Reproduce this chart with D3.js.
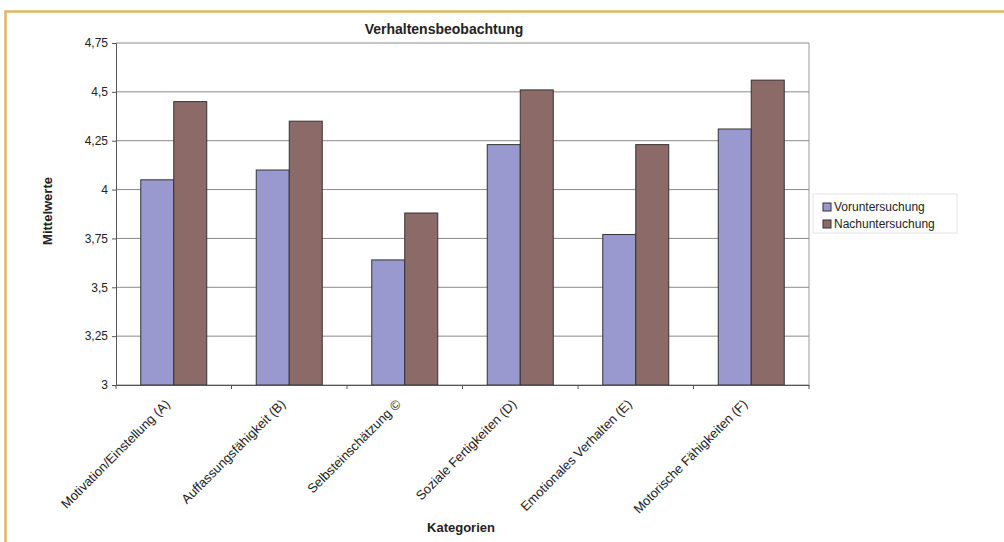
<!DOCTYPE html>
<html>
<head>
<meta charset="utf-8">
<script src="https://cdn.jsdelivr.net/npm/d3@7"></script>
<style>
    body { margin: 0; background: #fff; }
    text { font-family: "Liberation Sans", Arial, sans-serif; fill: #222; }
</style>
</head>
<body>
<div id="chart"></div>
<script>

// chart data
var categories = ["Motivation/Einstellung (A)", "Auffassungsfähigkeit (B)", "Selbsteinschätzung ©",
    "Soziale Fertigkeiten (D)", "Emotionales Verhalten (E)", "Motorische Fähigkeiten (F)"];
var seriesNames = ["Voruntersuchung", "Nachuntersuchung"];
var vorValues = [4.05, 4.10, 3.64, 4.23, 3.77, 4.31];
var nachValues = [4.45, 4.35, 3.88, 4.51, 4.23, 4.56];
var yTicks = [3, 3.25, 3.5, 3.75, 4, 4.25, 4.5, 4.75];

var colors = ["#9999cf", "#8c6a68"];

var W = 1004, H = 542;
var margin = { top: 43, right: 195, bottom: 157, left: 116 },
    width = W - margin.left - margin.right,
    height = H - margin.top - margin.bottom;

var svg = d3.select("#chart")
    .append("svg")
    .attr("width", W)
    .attr("height", H);

// orange frame of the scanned page
svg.append("path")
    .attr("d", "M5.5," + H + "V11.5H" + W)
    .attr("fill", "none")
    .attr("stroke", "#e2b566")
    .attr("stroke-width", 2.5);

var g = svg.append("g")
    .attr("transform", "translate(" + margin.left + "," + margin.top + ")");

var x0 = d3.scaleBand()
    .domain(categories)
    .range([0, width])
    .paddingInner(0)
    .paddingOuter(0);

// excel gap width ~150%
var barW = x0.bandwidth() / 3.5;
var x1 = d3.scaleBand()
    .domain(seriesNames)
    .range([0.75 * barW, 2.75 * barW]);

var y = d3.scaleLinear()
    .domain([3, 4.75])
    .range([height, 0]);

// gridlines
g.selectAll(".grid")
    .data(yTicks)
    .enter()
    .append("line")
    .attr("x1", 0)
    .attr("x2", width)
    .attr("y1", function (d) { return y(d); })
    .attr("y2", function (d) { return y(d); })
    .attr("stroke", "#8a8a8a")
    .attr("stroke-width", 1);

// right border of plot area
g.append("line")
    .attr("x1", width).attr("x2", width)
    .attr("y1", 0).attr("y2", height)
    .attr("stroke", "#9a9a9a");

// bars
var rows = categories.map(function (c, i) {
    return { cat: c, values: [vorValues[i], nachValues[i]] };
});

var groups = g.selectAll(".grp")
    .data(rows)
    .enter()
    .append("g")
    .attr("transform", function (d) { return "translate(" + x0(d.cat) + ",0)"; });

groups.selectAll("rect")
    .data(function (d) { return d.values.map(function (v, j) { return { key: seriesNames[j], v: v, j: j }; }); })
    .enter()
    .append("rect")
    .attr("x", function (d) { return x1(d.key); })
    .attr("y", function (d) { return y(d.v); })
    .attr("width", x1.bandwidth())
    .attr("height", function (d) { return height - y(d.v); })
    .attr("fill", function (d) { return colors[d.j]; })
    .attr("stroke", "#333")
    .attr("stroke-width", 1);

// y axis
var yAxis = g.append("g")
    .call(d3.axisLeft(y).tickValues(yTicks).tickSize(4)
        .tickFormat(function (d) { return String(d).replace(".", ","); }));
yAxis.select(".domain").attr("stroke", "#555");
yAxis.selectAll(".tick line").attr("stroke", "#555");
yAxis.selectAll("text")
    .style("font-family", "'Liberation Sans', Arial, sans-serif")
    .style("font-size", "12px")
    .attr("fill", "#333")
    .attr("x", -8);

// x axis
var xAxis = g.append("g")
    .attr("transform", "translate(0," + height + ")")
    .call(d3.axisBottom(x0).tickSize(0).tickFormat(""));
xAxis.select(".domain").attr("stroke", "#555");

// tick marks between categories
g.selectAll(".xtick")
    .data(d3.range(categories.length + 1))
    .enter()
    .append("line")
    .attr("x1", function (i) { return i * x0.bandwidth(); })
    .attr("x2", function (i) { return i * x0.bandwidth(); })
    .attr("y1", height)
    .attr("y2", height + 4)
    .attr("stroke", "#555");

// rotated category labels
g.selectAll(".catlabel")
    .data(categories)
    .enter()
    .append("text")
    .attr("transform", function (d) {
        return "translate(" + (x0(d) + x0.bandwidth() / 2 - 3) + "," + (height + 20) + ") rotate(-45)";
    })
    .attr("text-anchor", "end")
    .style("font-size", "13px")
    .attr("fill", "#333")
    .text(function (d) { return d; });

// title
svg.append("text")
    .attr("x", 444)
    .attr("y", 34)
    .attr("text-anchor", "middle")
    .style("font-size", "14px")
    .style("font-weight", "bold")
    .text("Verhaltensbeobachtung");

// axis titles
svg.append("text")
    .attr("transform", "translate(52,211) rotate(-90)")
    .attr("text-anchor", "middle")
    .style("font-size", "13px")
    .style("font-weight", "bold")
    .text("Mittelwerte");

svg.append("text")
    .attr("x", 461)
    .attr("y", 532)
    .attr("text-anchor", "middle")
    .style("font-size", "13px")
    .style("font-weight", "bold")
    .text("Kategorien");

// legend
var legend = svg.append("g")
    .attr("transform", "translate(813,194)");

legend.append("rect")
    .attr("width", 144)
    .attr("height", 39)
    .attr("fill", "#fff")
    .attr("stroke", "#e4e4e4");

legend.selectAll(".lsw")
    .data(seriesNames)
    .enter()
    .append("rect")
    .attr("x", 10)
    .attr("y", function (d, i) { return 9 + i * 17; })
    .attr("width", 8)
    .attr("height", 8)
    .attr("fill", function (d, i) { return colors[i]; })
    .attr("stroke", "#333");

legend.selectAll(".ltx")
    .data(seriesNames)
    .enter()
    .append("text")
    .attr("x", 21)
    .attr("y", function (d, i) { return 17 + i * 17; })
    .style("font-size", "12px")
    .attr("fill", "#333")
    .text(function (d) { return d; });

</script>
</body>
</html>
